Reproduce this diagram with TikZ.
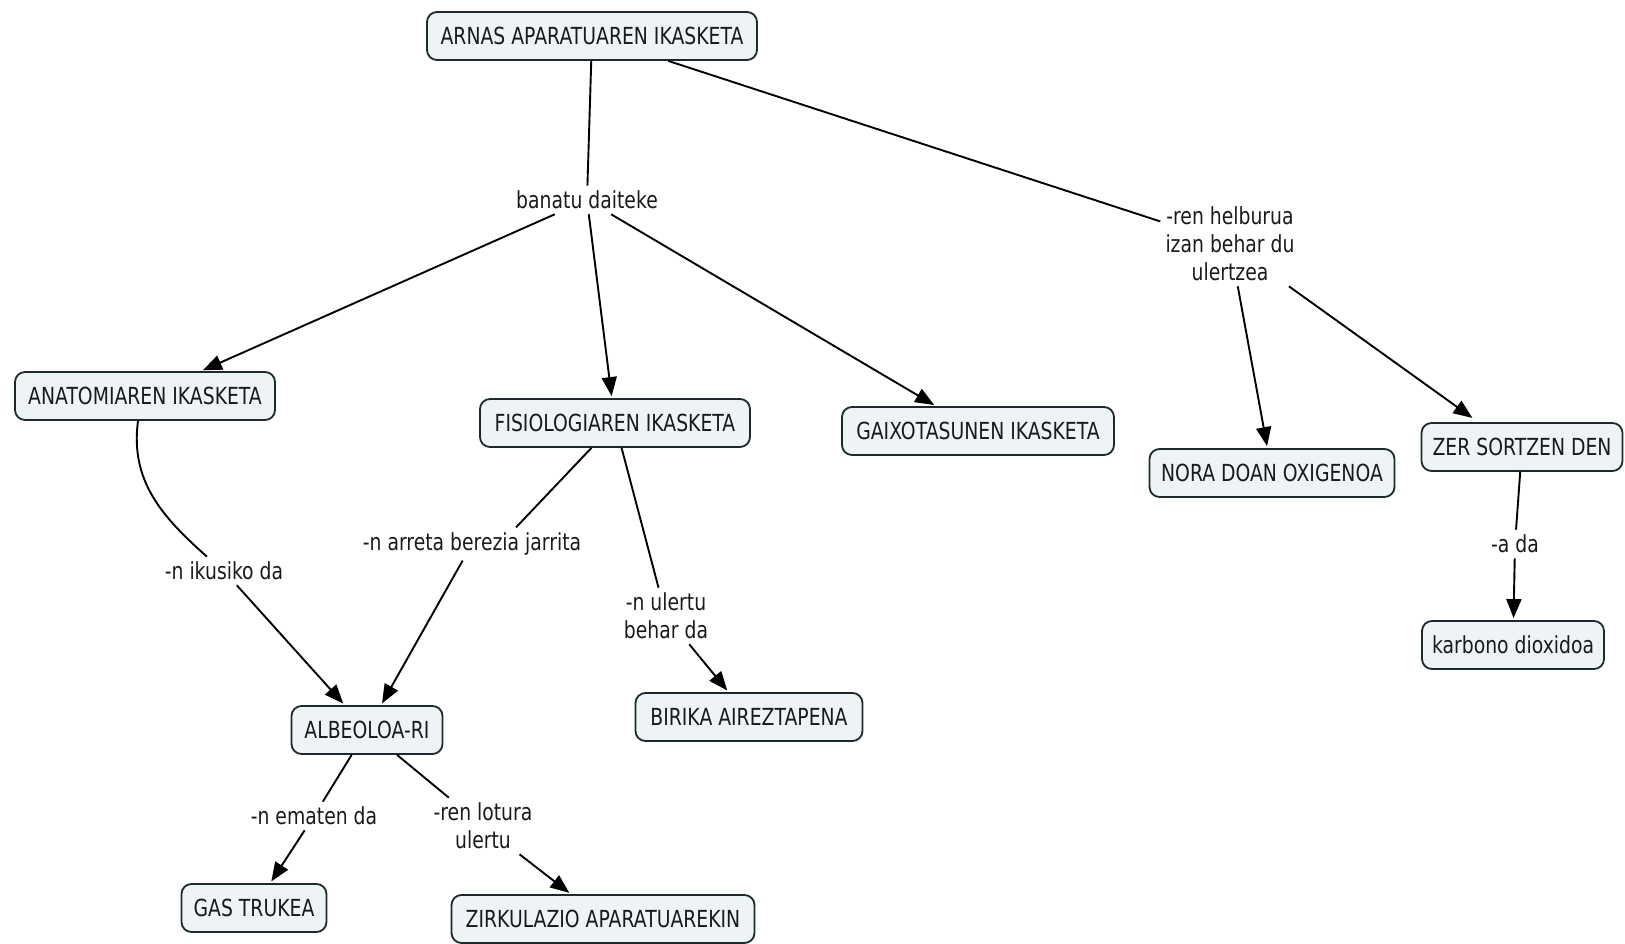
\documentclass[tikz,border=0pt]{standalone}
\usepackage{fontspec}
\setmainfont{DejaVu Sans}[FakeStretch=0.8]
\usetikzlibrary{arrows.meta,calc}

\definecolor{boxfill}{HTML}{EEF3F5}
\definecolor{boxline}{HTML}{1C2A2E}
\definecolor{ink}{HTML}{1A1A1A}

\begin{document}
\begin{tikzpicture}[x=1pt,y=-1pt,
  concept/.style={draw=boxline, fill=boxfill, line width=1.8pt, rounded corners=10pt,
    minimum height=48pt, inner xsep=10pt, text=ink, font=\fontsize{23.5}{28}\selectfont},
  linkword/.style={inner sep=5pt, align=center, text=ink, font=\fontsize{23.5}{28}\selectfont},
  link/.style={line width=1.9pt, black},
  arrow/.style={link, -{Triangle[length=19pt,width=15pt]}, shorten >=2pt},
]
\useasboundingbox (0,0) rectangle (1625,944);

% concepts
\node[concept, minimum width=330] (root)   at (592,36)  {ARNAS APARATUAREN IKASKETA};
\node[concept, minimum width=260] (anat)   at (145,396) {ANATOMIAREN IKASKETA};
\node[concept, minimum width=270] (fis)    at (615,423) {FISIOLOGIAREN IKASKETA};
\node[concept, minimum width=272] (gaix)   at (978,431) {GAIXOTASUNEN IKASKETA};
\node[concept, minimum width=245] (nora)   at (1272,473) {NORA DOAN OXIGENOA};
\node[concept, minimum width=201] (zer)    at (1522,447) {ZER SORTZEN DEN};
\node[concept, minimum width=179] (karb)   at (1513,645) {karbono dioxidoa};
\node[concept, minimum width=151] (alb)    at (367,730) {ALBEOLOA-RI};
\node[concept, minimum width=227] (birika) at (749,717) {BIRIKA AIREZTAPENA};
\node[concept, minimum width=145] (gas)    at (254,908) {GAS TRUKEA};
\node[concept, minimum width=303] (zirk)   at (603,919) {ZIRKULAZIO APARATUAREKIN};

% linking phrases
\node[linkword] (banatu) at (587,200) {banatu daiteke};
\node[linkword] (helb)   at (1230,244) {-ren helburua\\izan behar du\\ulertzea};
\node[linkword] (ada)    at (1515,544) {-a da};
\node[linkword] (ikus)   at (224,571) {-n ikusiko da};
\node[linkword] (arreta) at (472,544) {-n arreta berezia jarrita};
\node[linkword] (ulertu) at (666,616) {-n ulertu\\behar da};
\node[linkword] (ematen) at (314,816) {-n ematen da};
\node[linkword] (lotura) at (483,826) {-ren lotura\\ulertu};

% connections
\draw[link]  (root) -- (banatu);
\draw[arrow] (banatu) -- (anat);
\draw[arrow] (banatu) -- (fis);
\draw[arrow] (banatu) -- (gaix);

\draw[link]  (root) -- (helb);
\draw[arrow] (helb) -- (nora);
\draw[arrow] (helb) -- ($(zer.north)+(-48,-3)$);
\draw[link]  (zer) -- (ada);
\draw[arrow] (ada) -- (karb);

\draw[link]  ($(anat.south)+(-7,0)$) .. controls +(-8,60) and +(-45,-40) .. (ikus.140);
\draw[arrow] (ikus) -- (alb);
\draw[link]  (fis) -- ($(arreta.north)+(44,0)$);
\draw[arrow] (arreta) -- (alb);
\draw[link]  (fis) -- (ulertu);
\draw[arrow] (ulertu) -- (birika);

\draw[link]  (alb) -- (ematen);
\draw[arrow] (ematen) -- (gas);
\draw[link]  (alb) -- (lotura);
\draw[arrow] (lotura) -- (zirk);
\end{tikzpicture}
\end{document}
